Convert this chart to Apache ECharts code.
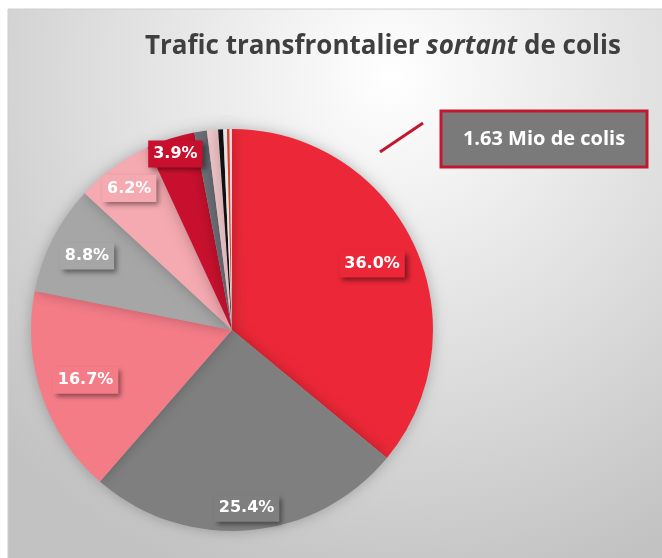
<!DOCTYPE html>
<html>
<head>
<meta charset="utf-8">
<script src="https://cdn.jsdelivr.net/npm/echarts@6/dist/echarts.min.js"></script>
<style>
  html, body { margin: 0; padding: 0; background: #ffffff; }
  #chart { width: 662px; height: 558px; }
</style>
</head>
<body>
<div id="chart"></div>
<script>
// Shares of outgoing cross-border parcels (percent), clockwise from 12 o'clock
const categories = ['Part 1', 'Part 2', 'Part 3', 'Part 4', 'Part 5', 'Part 6',
                    'Part 7', 'Part 8', 'Part 9', 'Part 10', 'Part 11', 'Part 12'];
const shares = [36.0, 25.4, 16.7, 8.8, 6.2, 3.9, 1.0, 0.9, 0.4, 0.3, 0.2, 0.2];
const totalText = '1.63 Mio de colis';
const titleParts = ['Trafic transfrontalier ', 'sortant', ' de colis'];

// Slice colours
const colors = ['#ec2737', '#7f7f7f', '#f47c87', '#a6a6a6', '#f5a9b0', '#c8102e',
                '#6b6f76', '#f1c6ca', '#111111', '#f7ecec', '#e2402f', '#f5d3d5'];
// Only the larger slices carry a label
const labelled = [true, true, true, true, true, true, false, false, false, false, false, false];
// Radial placement of each label box, as a fraction of the radius
const labelRadius = [0.77, 0.89, 0.77, 0.81, 0.87, 0.92];

const CX = 232, CY = 330, R = 201;

const data = categories.map((name, i) => ({
  name: name,
  value: shares[i],
  itemStyle: { color: colors[i] },
  label: labelled[i]
    ? { show: true, backgroundColor: colors[i] }
    : { show: false }
}));

const chart = echarts.init(document.getElementById('chart'), null, { renderer: 'canvas' });

chart.setOption({
  backgroundColor: '#ffffff',
  animation: false,
  title: {
    left: 140,
    top: 29,
    text: '{a|' + titleParts[0] + '}{b|' + titleParts[1] + '}{a|' + titleParts[2] + '}',
    textStyle: {
      rich: {
        a: { fontFamily: 'Open Sans', fontWeight: 'bold', fontSize: 26, color: '#3f3f3f' },
        b: { fontFamily: 'Open Sans', fontWeight: 'bold', fontStyle: 'italic', fontSize: 26, color: '#3f3f3f' }
      }
    }
  },
  graphic: [
    {
      type: 'rect',
      z: -10,
      shape: { x: 8, y: 9, width: 660, height: 560 },
      style: {
        fill: new echarts.graphic.RadialGradient(0.58, 0.12, 0.95, [
          { offset: 0, color: '#ffffff' },
          { offset: 0.55, color: '#dedede' },
          { offset: 1, color: '#c2c2c2' }
        ]),
        stroke: '#cfcfcf',
        lineWidth: 1
      },
      silent: true
    },
    {
      type: 'line',
      shape: { x1: 380, y1: 152, x2: 423, y2: 123 },
      style: { stroke: '#c1182f', lineWidth: 3 }
    },
    {
      type: 'rect',
      shape: { x: 441, y: 111, width: 206, height: 56 },
      style: { fill: '#7a7a7a', stroke: '#c1182f', lineWidth: 3 }
    },
    {
      type: 'text',
      x: 544,
      y: 139,
      style: {
        text: totalText,
        fill: '#ffffff',
        font: 'bold 20px "Open Sans"',
        align: 'center',
        verticalAlign: 'middle'
      }
    }
  ],
  series: [
    {
      type: 'pie',
      center: [CX, CY],
      radius: [0, R],
      startAngle: 90,
      clockwise: true,
      avoidLabelOverlap: false,
      itemStyle: {
        borderWidth: 0,
        shadowBlur: 14,
        shadowColor: 'rgba(0,0,0,0.25)'
      },
      label: {
        position: 'inside',
        formatter: p => p.value.toFixed(1) + '%',
        color: '#ffffff',
        fontFamily: 'DejaVu Sans',
        fontWeight: 'bold',
        fontSize: 16,
        padding: [6, 5, 5, 5],
        shadowColor: 'rgba(0,0,0,0.45)',
        shadowBlur: 5,
        shadowOffsetX: 3,
        shadowOffsetY: 3
      },
      labelLine: { show: false },
      labelLayout: function (params) {
        const f = labelRadius[params.dataIndex];
        if (f === undefined) return {};
        const r = params.labelRect;
        const lx = r.x + r.width / 2;
        const ly = r.y + r.height / 2;
        const dx = lx - CX, dy = ly - CY;
        const d = Math.sqrt(dx * dx + dy * dy) || 1;
        return { x: CX + dx / d * f * R, y: CY + dy / d * f * R, align: 'center', verticalAlign: 'middle' };
      },
      data: data
    }
  ]
});
</script>
</body>
</html>
